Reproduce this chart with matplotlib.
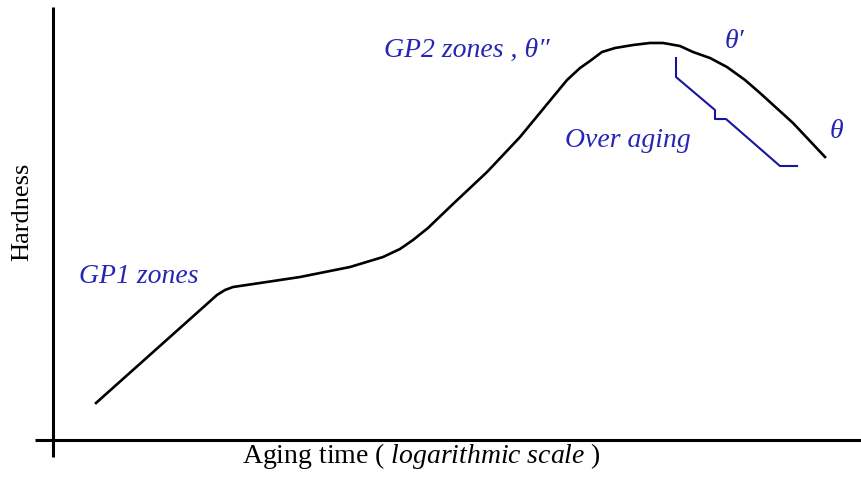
import matplotlib
matplotlib.use("Agg")
import matplotlib.pyplot as plt

plt.rcParams["font.family"] = ["Liberation Serif", "DejaVu Serif"]
plt.rcParams["mathtext.fontset"] = "custom"
plt.rcParams["mathtext.rm"] = "Liberation Serif"
plt.rcParams["mathtext.it"] = "Liberation Serif:italic"

# Hardness vs. aging time (log scale), arbitrary units 0-100
aging_time = [5.32, 20.27, 21.26, 22.25, 25.59, 30.53, 34.24, 36.71, 40.79,
              42.89, 44.50, 46.35, 49.44, 53.65, 57.73, 61.80, 63.54, 65.14,
              66.38, 67.86, 69.47, 71.69, 73.79, 75.40, 77.50, 79.11, 81.21,
              83.31, 85.54, 87.39, 91.47, 95.43]
hardness = [8.55, 33.49, 34.64, 35.33, 36.26, 37.64, 39.03, 39.95, 42.26,
            44.11, 46.19, 48.96, 54.50, 61.89, 69.98, 79.21, 83.14, 85.91,
            87.53, 89.61, 90.53, 91.22, 91.69, 91.69, 90.99, 89.61, 88.22,
            86.14, 83.14, 80.14, 73.21, 65.36]

# Stepped bracket marking the over-aging region
bracket_x = [77.01, 77.01, 81.83, 81.83, 83.19, 89.86, 91.97]
bracket_y = [88.22, 83.83, 76.21, 74.13, 74.13, 63.28, 63.28]

# Stage labels: (text, x, y)
stage_labels = [
    ("GP1 zones", 3.2, 36.26),
    ("GP2 zones , θ\u2033", 40.91, 88.45),
    ("θ\u2032", 83.06, 90.53),
    ("θ", 96.04, 69.75),
    ("Over aging", 63.29, 67.67),
]

W, H = 862, 483
fig = plt.figure(figsize=(W / 100, H / 100), dpi=100)
ax = fig.add_axes([53 / W, (H - 440) / H, (W - 53) / W, (440 - 7) / H])
ax.set_xlim(0, 100)
ax.set_ylim(0, 100)
for s in ax.spines.values():
    s.set_visible(False)
ax.set_xticks([])
ax.set_yticks([])

# Axes drawn as crossing lines that overshoot the origin slightly
ax.plot([0, 0], [-17 / 433, 1], transform=ax.transAxes, color="black",
        lw=2.2, clip_on=False, solid_capstyle="butt")
ax.plot([-18 / 809, 1], [0, 0], transform=ax.transAxes, color="black",
        lw=2.2, clip_on=False, solid_capstyle="butt")

ax.plot(aging_time, hardness, color="black", lw=1.9, solid_joinstyle="round")
ax.plot(bracket_x, bracket_y, color="#16169c", lw=1.5)

text_blue = "#2626b4"
for label, x, y in stage_labels:
    ax.text(x, y, label, color=text_blue, fontsize=20, style="italic",
            ha="left", va="baseline")

fig.text(22 / W, (H - 212) / H, "Hardness", rotation=90, fontsize=19,
         ha="center", va="center")
fig.text(421 / W, (H - 463) / H,
         r"Aging time ( $\mathit{logarithmic\ scale}$ )", fontsize=20,
         ha="center", va="baseline")

fig.savefig("out.png", dpi=100, facecolor="white")
